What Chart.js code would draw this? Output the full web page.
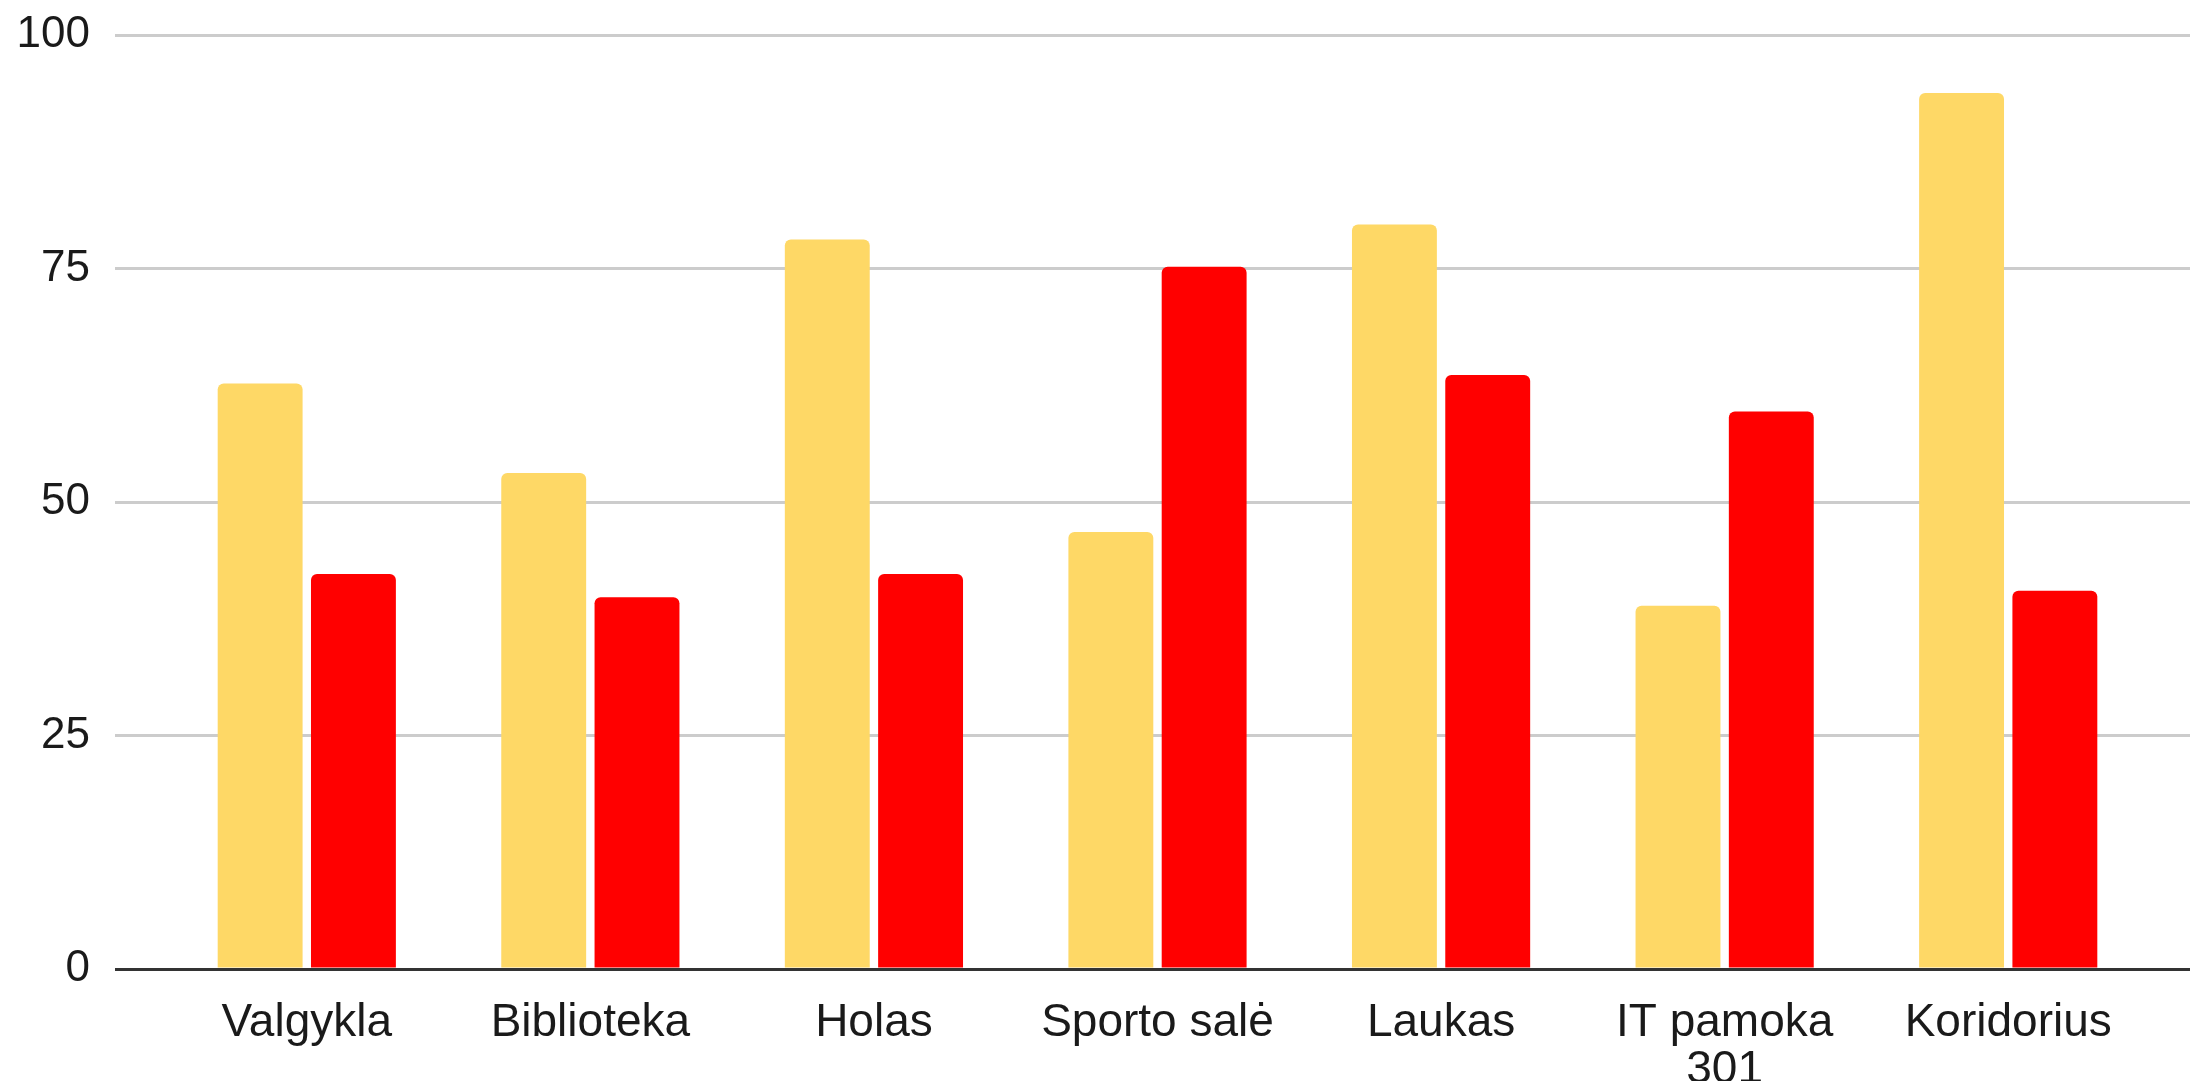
<!DOCTYPE html>
<html>
<head>
<meta charset="utf-8">
<script src="https://cdn.jsdelivr.net/npm/chart.js@4"></script>
<style>
    body { margin: 0; background: #fff; }
    .chart-box { width: 2190px; height: 1081px; }
</style>
</head>
<body>
<div class="chart-box"><canvas id="chart"></canvas></div>
<script>
const categories = ['Valgykla', 'Biblioteka', 'Holas', 'Sporto salė', 'Laukas', ['IT pamoka', '301'], 'Koridorius'];
const yellowValues = [62.7, 53.1, 78.1, 46.8, 79.7, 38.9, 93.8];
const redValues = [42.3, 39.8, 42.3, 75.2, 63.6, 59.7, 40.5];
const yTicks = [0, 25, 50, 75, 100];

const gridColor = (ctx) => ctx.tick && ctx.tick.value === 0 ? '#333333' : '#cccccc';

const chart = document.getElementById('chart');

new Chart(chart, {
    type: 'bar',
    data: {
        labels: categories,
        datasets: [
            {
                label: 'Serija 1',
                data: yellowValues,
                backgroundColor: '#fed866',
                borderRadius: { topLeft: 6, topRight: 6, bottomLeft: 0, bottomRight: 0 },
                borderSkipped: 'start'
            },
            {
                label: 'Serija 2',
                data: redValues,
                backgroundColor: '#ff0000',
                borderRadius: { topLeft: 6, topRight: 6, bottomLeft: 0, bottomRight: 0 },
                borderSkipped: 'start'
            }
        ]
    },
    options: {
        responsive: true,
        maintainAspectRatio: false,
        animation: false,
        categoryPercentage: 0.658,
        barPercentage: 0.91,
        layout: { padding: { top: 35, left: 0, right: 0, bottom: 0 } },
        plugins: {
            legend: { display: false },
            tooltip: { enabled: false }
        },
        scales: {
            x: {
                grid: { display: false },
                border: { display: false },
                ticks: {
                    color: '#1a1a1a',
                    padding: 23,
                    maxRotation: 0,
                    autoSkip: false,
                    font: { family: '"Liberation Sans", Arial, sans-serif', size: 46, lineHeight: 1.02 }
                },
                afterFit: (scale) => { scale.height = 112; }
            },
            y: {
                min: 0,
                max: 100,
                afterBuildTicks: (scale) => { scale.ticks = yTicks.map(v => ({ value: v })); },
                grid: { color: gridColor, lineWidth: 3, tickLength: 50 },
                border: { display: false },
                ticks: {
                    color: '#1a1a1a',
                    padding: 25,
                    font: { family: '"Liberation Sans", Arial, sans-serif', size: 44 }
                },
                afterFit: (scale) => {
                    scale.width = 165;
                    scale.paddingTop = 0;
                    scale.paddingBottom = 0;
                }
            },
            y2: {
                position: 'right',
                min: 0,
                max: 100,
                afterBuildTicks: (scale) => { scale.ticks = yTicks.map(v => ({ value: v })); },
                grid: { color: gridColor, lineWidth: 3, tickLength: 40, drawOnChartArea: false },
                border: { display: false },
                ticks: { display: false },
                afterFit: (scale) => {
                    scale.width = 40;
                    scale.paddingTop = 0;
                    scale.paddingBottom = 0;
                }
            }
        }
    }
});
</script>
</body>
</html>
